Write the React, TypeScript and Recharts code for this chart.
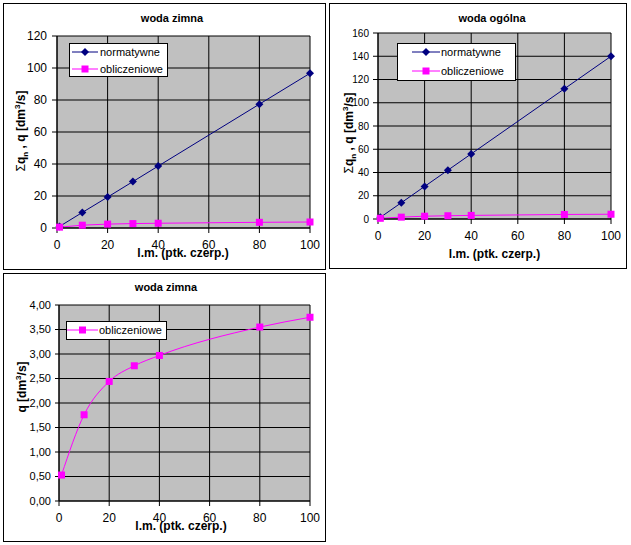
import React from 'react';
import { LineChart, Line, XAxis, YAxis, CartesianGrid } from 'recharts';

const FONT = "'Liberation Sans', Arial, sans-serif";
const NAVY = '#000080';
const MAGENTA = '#FF00FF';

// liczba punktów czerpalnych
const pointsCount = [1, 10, 20, 30, 40, 80, 100];
const xTicks = [0, 20, 40, 60, 80, 100];

// woda zimna
const coldNormative = [0.97, 9.7, 19.3, 29.0, 38.7, 77.4, 96.7];
const coldDesign = [0.53, 1.76, 2.44, 2.76, 2.97, 3.55, 3.75];
const coldTicks = [0, 20, 40, 60, 80, 100, 120];
const coldDesignTicks = [0, 0.5, 1, 1.5, 2, 2.5, 3, 3.5, 4];

// woda ogólna
const totalNormative = [1.4, 14.0, 28.0, 42.0, 56.0, 112.0, 140.0];
const totalDesign = [0.6, 1.6, 2.4, 2.8, 3.1, 3.9, 4.1];
const totalTicks = [0, 20, 40, 60, 80, 100, 120, 140, 160];

const coldData = pointsCount.map((x, i) => ({ x, normative: coldNormative[i], design: coldDesign[i] }));
const totalData = pointsCount.map((x, i) => ({ x, normative: totalNormative[i], design: totalDesign[i] }));

const Diamond = (props: any) => {
  const { cx, cy, index } = props;
  if (cx == null || cy == null) return <g key={`d-${index}`} />;
  return (
    <path
      key={`d-${index}`}
      d={`M${cx},${cy - 4}L${cx + 4},${cy}L${cx},${cy + 4}L${cx - 4},${cy}Z`}
      fill={NAVY}
    />
  );
};

const Square = (props: any) => {
  const { cx, cy, index } = props;
  if (cx == null || cy == null) return <g key={`s-${index}`} />;
  return <rect key={`s-${index}`} x={cx - 3.5} y={cy - 3.5} width={7} height={7} fill={MAGENTA} />;
};

const tick = (size: number) => ({ fill: '#000', fontSize: size, fontFamily: FONT });

const commaFormat = (v: number) => v.toFixed(2).replace('.', ',');

type PanelProps = {
  left: number;
  top: number;
  width: number;
  height: number;
  margin: { top: number; right: number; bottom: number; left: number };
  yWidth: number;
  yFont: number;
  yTickSize: number;
  yTickMargin: number;
  data: any[];
  yDomain: [number, number];
  yTicks: number[];
  yFormat?: (v: number) => string;
  showNormative: boolean;
  smooth: boolean;
};

const Panel: React.FC<PanelProps> = ({
  left, top, width, height, margin, yWidth, yFont, yTickSize, yTickMargin,
  data, yDomain, yTicks, yFormat, showNormative, smooth,
}) => (
  <div
    style={{
      position: 'absolute',
      left,
      top,
      width,
      height,
      boxSizing: 'border-box',
      border: '1px solid #000',
      background: '#fff',
    }}
  >
    <LineChart width={width - 2} height={height - 2} data={data} margin={margin}>
      <CartesianGrid stroke="#000" fill="#C0C0C0" fillOpacity={1} />
      <XAxis
        type="number"
        dataKey="x"
        domain={[0, 100]}
        ticks={xTicks}
        interval={0}
        height={30}
        tickSize={5}
        tickMargin={7}
        tick={tick(12)}
        axisLine={{ stroke: '#000' }}
        tickLine={{ stroke: '#000' }}
      />
      <YAxis
        type="number"
        domain={yDomain}
        ticks={yTicks}
        interval={0}
        width={yWidth}
        tickSize={yTickSize}
        tickMargin={yTickMargin}
        tick={tick(yFont)}
        tickFormatter={yFormat}
        axisLine={{ stroke: '#000' }}
        tickLine={{ stroke: '#000' }}
      />
      {showNormative && (
        <Line
          type="linear"
          dataKey="normative"
          stroke={NAVY}
          strokeWidth={1}
          dot={Diamond}
          activeDot={false}
          isAnimationActive={false}
        />
      )}
      <Line
        type={smooth ? 'monotone' : 'linear'}
        dataKey="design"
        stroke={MAGENTA}
        strokeWidth={1}
        dot={Square}
        activeDot={false}
        isAnimationActive={false}
      />
    </LineChart>
  </div>
);

const LegendRow = ({ x, y, x1, x2, marker, label }: any) => (
  <g>
    <line x1={x1} x2={x2} y1={y} y2={y} stroke={marker === 'diamond' ? NAVY : MAGENTA} strokeWidth={1} />
    {marker === 'diamond' ? (
      <path d={`M${(x1 + x2) / 2},${y - 4}l4,4l-4,4l-4,-4Z`} fill={NAVY} />
    ) : (
      <rect x={(x1 + x2) / 2 - 3.5} y={y - 3.5} width={7} height={7} fill={MAGENTA} />
    )}
    <text x={x} y={y + 4} fontSize={11} fontFamily={FONT} fill="#000">
      {label}
    </text>
  </g>
);

const YLabel = ({ x, y, withSum }: any) => (
  <text
    x={x}
    y={y}
    transform={`rotate(-90, ${x}, ${y})`}
    textAnchor="middle"
    fontSize={12}
    fontWeight="bold"
    fontFamily={FONT}
    fill="#000"
  >
    {withSum && (
      <>
        <tspan fontWeight="normal">Σ</tspan>
        <tspan>q</tspan>
        <tspan fontSize={8} dy={3}>n</tspan>
        <tspan dy={-3}> , </tspan>
      </>
    )}
    <tspan>q [dm</tspan>
    <tspan fontSize={8} dy={-5}>3</tspan>
    <tspan dy={5}>/s]</tspan>
  </text>
);

const titleProps = { fontSize: 11, fontWeight: 'bold', fontFamily: FONT, fill: '#000', textAnchor: 'middle' as const };
const xLabelProps = { fontSize: 12, fontWeight: 'bold', fontFamily: FONT, fill: '#000', textAnchor: 'middle' as const };

export default function App() {
  return (
    <div style={{ position: 'absolute', left: 0, top: 0, width: 631, height: 545, background: '#fff' }}>
      <Panel
        left={3}
        top={3}
        width={323}
        height={267}
        margin={{ top: 32, right: 15, bottom: 11, left: 0 }}
        yWidth={53}
        yFont={12}
        yTickSize={5}
        yTickMargin={5}
        data={coldData}
        yDomain={[0, 120]}
        yTicks={coldTicks}
        showNormative
        smooth={false}
      />
      <Panel
        left={329}
        top={3}
        width={298}
        height={266}
        margin={{ top: 29, right: 15, bottom: 19, left: 0 }}
        yWidth={48}
        yFont={10}
        yTickSize={5}
        yTickMargin={4}
        data={totalData}
        yDomain={[0, 160]}
        yTicks={totalTicks}
        showNormative
        smooth={false}
      />
      <Panel
        left={3}
        top={273}
        width={323}
        height={269}
        margin={{ top: 31, right: 15, bottom: 10, left: 0 }}
        yWidth={55}
        yFont={11}
        yTickSize={4}
        yTickMargin={4}
        data={coldData}
        yDomain={[0, 4]}
        yTicks={coldDesignTicks}
        yFormat={commaFormat}
        showNormative={false}
        smooth
      />
      <svg
        width={631}
        height={545}
        style={{ position: 'absolute', left: 0, top: 0, pointerEvents: 'none' }}
      >
        {/* wykres 1 */}
        <text x={172} y={21.5} {...titleProps}>woda zimna</text>
        <text x={183} y={257} {...xLabelProps}>l.m. (ptk. czerp.)</text>
        <YLabel x={25} y={131} withSum />
        <rect x={69.5} y={43.5} width={98} height={33} fill="#fff" stroke="#000" />
        <LegendRow x={100} y={52} x1={72} x2={98} marker="diamond" label="normatywne" />
        <LegendRow x={100} y={69} x1={72} x2={98} marker="square" label="obliczeniowe" />

        {/* wykres 2 */}
        <text x={492} y={21.5} {...titleProps}>woda ogólna</text>
        <text x={494.5} y={258} {...xLabelProps}>l.m. (ptk. czerp.)</text>
        <YLabel x={352.5} y={133} withSum />
        <rect x={397.5} y={43.5} width={118} height={37} fill="#fff" stroke="#000" />
        <LegendRow x={441} y={52} x1={412} x2={440} marker="diamond" label="normatywne" />
        <LegendRow x={441} y={71} x1={412} x2={440} marker="square" label="obliczeniowe" />

        {/* wykres 3 */}
        <text x={166} y={291} {...titleProps}>woda zimna</text>
        <text x={181} y={529.5} {...xLabelProps}>l.m. (ptk. czerp.)</text>
        <YLabel x={26} y={387} withSum={false} />
        <rect x={66.5} y={321.5} width={100} height={18} fill="#fff" stroke="#000" />
        <LegendRow x={99} y={330} x1={67} x2={98} marker="square" label="obliczeniowe" />
      </svg>
    </div>
  );
}
